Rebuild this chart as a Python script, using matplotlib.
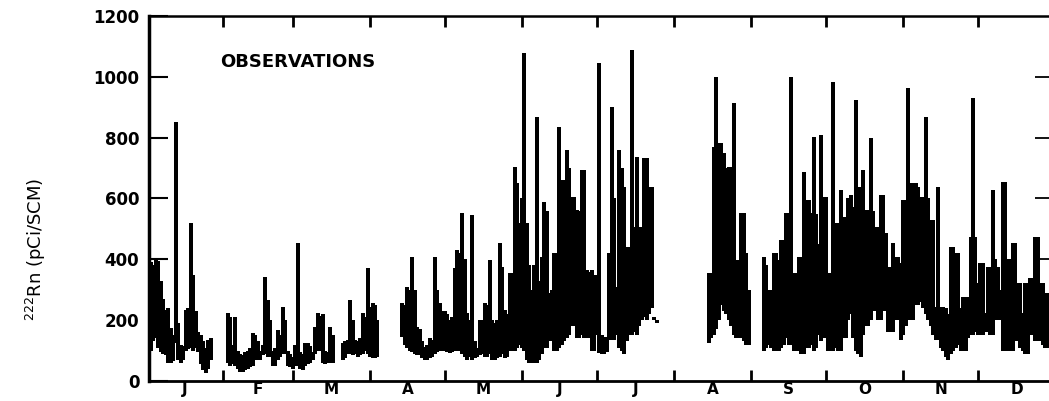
import numpy as np
import matplotlib
matplotlib.use("Agg")
import matplotlib.pyplot as plt

# daily min / max of the radon record, one block per uninterrupted run of data
s1_start = 2
s1_lo = [100, 130, 140, 110, 95, 90, 85, 60, 60, 65, 125, 70, 60, 70, 100, 105, 110, 100, 110, 95,
         55, 35, 25, 40, 70]
s1_hi = [390, 380, 405, 395, 330, 270, 235, 240, 175, 150, 850, 190, 120, 115, 235, 240, 520, 350, 230, 160,
         150, 130, 110, 135, 140]

s2_start = 33
s2_lo = [60, 50, 55, 50, 40, 30, 30, 35, 40, 45, 50, 70, 70, 70, 85, 90, 80, 80, 50, 50,
         70, 80, 90, 90, 50, 45, 40, 50, 50, 40, 35, 50, 55, 60, 70, 90, 100, 100, 60, 55,
         60, 60, 60]
s2_hi = [225, 210, 120, 212, 100, 90, 85, 95, 100, 110, 157, 150, 130, 100, 120, 343, 266, 200, 100, 110,
         168, 150, 244, 200, 100, 90, 80, 120, 453, 95, 90, 124, 124, 115, 95, 179, 222, 215, 220, 100,
         95, 179, 150]

s3_start = 79
s3_lo = [70, 75, 90, 90, 85, 90, 80, 85, 90, 100, 90, 80, 75, 75, 80]
s3_hi = [124, 130, 135, 266, 200, 135, 130, 140, 222, 210, 370, 244, 255, 250, 200]

s4_start = 103
s4_lo = [146, 120, 110, 100, 95, 90, 85, 85, 75, 70,
         70, 75, 80, 90, 95, 100, 100, 100, 95, 91,
         95, 100, 100, 100, 90, 80, 70, 80, 70, 75,
         80, 85, 90, 80, 80, 90, 70, 70, 75, 80,
         90, 75, 80, 100, 100, 100, 110, 120, 110, 100,
         70, 60, 60, 60, 60, 70, 90, 110, 110, 130,
         130, 100, 100, 110, 120, 130, 140, 150, 180, 180,
         140, 140, 150, 140, 140, 140, 100, 100, 150, 91,
         90, 90, 95, 135, 135, 135, 150, 110, 100, 90,
         130, 150, 150, 160, 150, 180, 200, 210, 200, 220,
         240, 200, 190]
s4_hi = [255, 250, 310, 300, 409, 300, 179, 170, 130, 113,
         120, 140, 135, 409, 300, 255, 230, 230, 220, 200,
         210, 370, 431, 420, 551, 400, 222, 200, 546, 130,
         110, 200, 200, 255, 250, 398, 200, 190, 200, 453,
         376, 233, 220, 354, 354, 705, 650, 518, 600, 1077,
         518, 380, 300, 380, 869, 330, 409, 590, 560, 288,
         300, 420, 420, 836, 661, 660, 760, 700, 606, 606,
         562, 560, 694, 694, 365, 360, 365, 350, 350, 1045,
         150, 146, 146, 420, 902, 600, 310, 760, 700, 639,
         442, 442, 1088, 507, 738, 507, 507, 732, 732, 639,
         639, 210, 200]

s5_start = 226
s5_lo = [124, 140, 150, 170, 200, 250, 230, 220, 200, 180, 150, 140, 140, 140, 130, 120, 120]
s5_hi = [354, 354, 770, 1001, 781, 781, 749, 700, 705, 705, 913, 398, 398, 551, 551, 420, 300]

s6_start = 248
s6_lo = [100, 110, 120, 110, 100, 100, 100, 110, 120, 140,
         120, 120, 100, 100, 100, 90, 90, 110, 110, 120,
         100, 110, 150, 130, 140, 150, 100, 100, 100, 110,
         100, 100, 140, 140, 200, 220, 140, 100, 90, 80,
         150, 180, 180, 200, 230, 230, 200, 200, 230, 230,
         160, 160, 160, 200, 200, 135, 150, 180, 200, 200,
         200, 250, 250, 260, 240, 220, 200, 180, 150, 135,
         135, 110, 100, 80, 69, 90, 100, 110, 120, 100,
         100, 100, 140, 150, 150, 160, 150, 150, 150, 160,
         160, 150, 150, 200, 200, 200, 100, 100, 100, 100,
         100, 130, 130, 110, 100, 90, 90, 150, 150, 130,
         130, 130, 120, 110, 110]
s6_hi = [409, 380, 299, 300, 420, 420, 398, 464, 464, 551,
         551, 1001, 354, 354, 409, 409, 688, 595, 595, 551,
         803, 550, 450, 809, 606, 606, 354, 354, 984, 518,
         518, 628, 540, 540, 600, 610, 573, 924, 639, 639,
         694, 562, 562, 798, 560, 507, 507, 612, 612, 486,
         376, 376, 453, 409, 409, 387, 595, 595, 962, 650,
         650, 650, 639, 606, 606, 869, 600, 529, 529, 244,
         639, 244, 244, 240, 220, 442, 442, 420, 420, 240,
         277, 277, 277, 475, 929, 475, 321, 387, 387, 222,
         376, 376, 628, 400, 376, 300, 655, 655, 400, 400,
         453, 453, 321, 321, 222, 321, 321, 340, 340, 475,
         475, 321, 321, 290, 290]

segments = [(s1_start, s1_lo, s1_hi), (s2_start, s2_lo, s2_hi), (s3_start, s3_lo, s3_hi),
            (s4_start, s4_lo, s4_hi), (s5_start, s5_lo, s5_hi), (s6_start, s6_lo, s6_hi)]

months = ["J", "F", "M", "A", "M", "J", "J", "A", "S", "O", "N", "D"]
month_len = [31, 28, 31, 30, 31, 30, 31, 31, 30, 31, 30, 31]
yticks = [0, 200, 400, 600, 800, 1000, 1200]

W, H = 1049, 401
fig = plt.figure(figsize=(W / 100, H / 100), dpi=100)
ax = fig.add_axes([149 / W, 20 / H, 900 / W, 365 / H])

for start, lo, hi in segments:
    d = start + np.arange(len(lo))
    ax.vlines(d, lo, hi, color="black", lw=2.6, antialiased=False)

ax.set_xlim(1.3, 362.5)
ax.set_ylim(0, 1200)

edges = np.cumsum(month_len)[:-1]
mids = np.cumsum(month_len) - np.array(month_len) / 2
ax.set_xticks(edges)
ax.set_xticklabels([])
ax.set_xticks(mids, minor=True)
ax.set_xticklabels(months, minor=True)
ax.tick_params(axis="x", which="major", direction="in", length=8, width=2, top=True)
ax.tick_params(axis="x", which="minor", length=0, pad=1, labelsize=11)
for t in ax.get_xticklabels(minor=True):
    t.set_fontweight("bold")

ax.set_yticks(yticks)
ax.set_yticklabels([str(v) for v in yticks])
ax.tick_params(axis="y", direction="in", length=14, width=1.5, pad=7, labelsize=12)
for t in ax.get_yticklabels():
    t.set_fontweight("bold")

sec = ax.secondary_yaxis("right")
sec.set_yticks([400, 600, 800, 1000])
sec.tick_params(direction="in", length=10, width=1.3, labelright=False)
sec.spines["right"].set_visible(False)

ax.spines["right"].set_visible(False)
ax.spines["left"].set_linewidth(2.5)
ax.spines["bottom"].set_linewidth(2)
ax.spines["top"].set_linewidth(1.8)

ax.set_ylabel(r"$^{222}$Rn (pCi/SCM)", fontsize=13)
ax.yaxis.set_label_coords(-0.112, 0.36)

ax.text(30, 1050, "OBSERVATIONS", fontsize=13, fontweight="bold", ha="left", va="center")

fig.savefig("out.png", dpi=100)
